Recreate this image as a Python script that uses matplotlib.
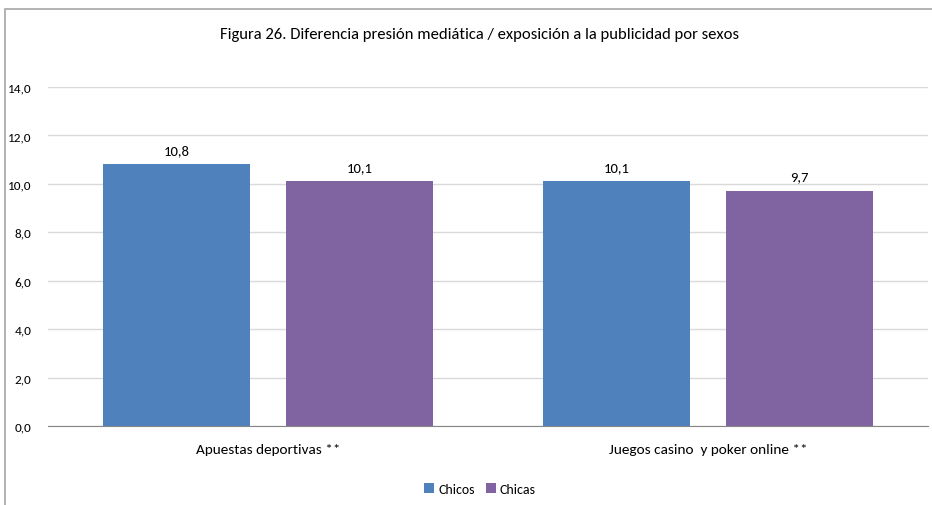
import matplotlib
matplotlib.use('Agg')
import matplotlib.pyplot as plt
import matplotlib.patches as mpatches
import numpy as np

categorias = ['Apuestas deportivas **', 'Juegos casino  y poker online **']
chicos = [10.8, 10.1]
chicas = [10.1, 9.7]
series = ['Chicos', 'Chicas']
colores = ['#4F81BD', '#8064A2']

plt.rcParams['font.family'] = ['Carlito', 'DejaVu Sans']

fig = plt.figure(figsize=(9.32, 5.06), dpi=100)
ax = fig.add_axes([48 / 932, 79 / 506, 880 / 932, 339 / 506])

# marco del grafico
fig.patches.append(mpatches.Rectangle((5 / 932, -0.1), 1.2, 1.1 - 10 / 506,
                                      transform=fig.transFigure, fill=False,
                                      edgecolor='#A6A6A6', linewidth=1.2))

x = np.arange(len(categorias))
ancho = 0.332
desp = 0.208
for vals, d, c, s in zip([chicos, chicas], [-desp, desp], colores, series):
    barras = ax.bar(x + d, vals, ancho, color=c, label=s, zorder=3)
    for b, v in zip(barras, vals):
        ax.text(b.get_x() + b.get_width() / 2, v + 0.35, f'{v:.1f}'.replace('.', ','),
                ha='center', va='bottom', fontsize=10.5)

ax.set_xlim(-0.5, 1.5)
ax.set_ylim(0, 14)
ax.set_yticks(np.arange(0, 15, 2))
ax.set_yticklabels([f'{t:.1f}'.replace('.', ',') for t in np.arange(0, 15, 2)], fontsize=9.5)
ax.set_xticks(x)
ax.set_xticklabels(categorias, fontsize=11)
ax.tick_params(axis='both', length=0)
ax.tick_params(axis='y', pad=12)
ax.tick_params(axis='x', pad=12)
ax.grid(axis='y', color='#D9D9D9', linewidth=1, zorder=0)
for sp in ['top', 'right', 'left']:
    ax.spines[sp].set_visible(False)
ax.spines['bottom'].set_color('#868686')
ax.spines['bottom'].set_zorder(4)

fig.text(480 / 932, 1 - 35 / 506, 'Figura 26. Diferencia presión mediática / exposición a la publicidad por sexos',
         ha='center', va='center', fontsize=12)

fig.legend(loc='center', bbox_to_anchor=(480 / 932, 1 - 490 / 506), ncol=2, frameon=False,
           fontsize=10, handlelength=0.7, handleheight=0.7, handletextpad=0.3, columnspacing=0.8)

fig.savefig('out.png', dpi=100, facecolor='white')
